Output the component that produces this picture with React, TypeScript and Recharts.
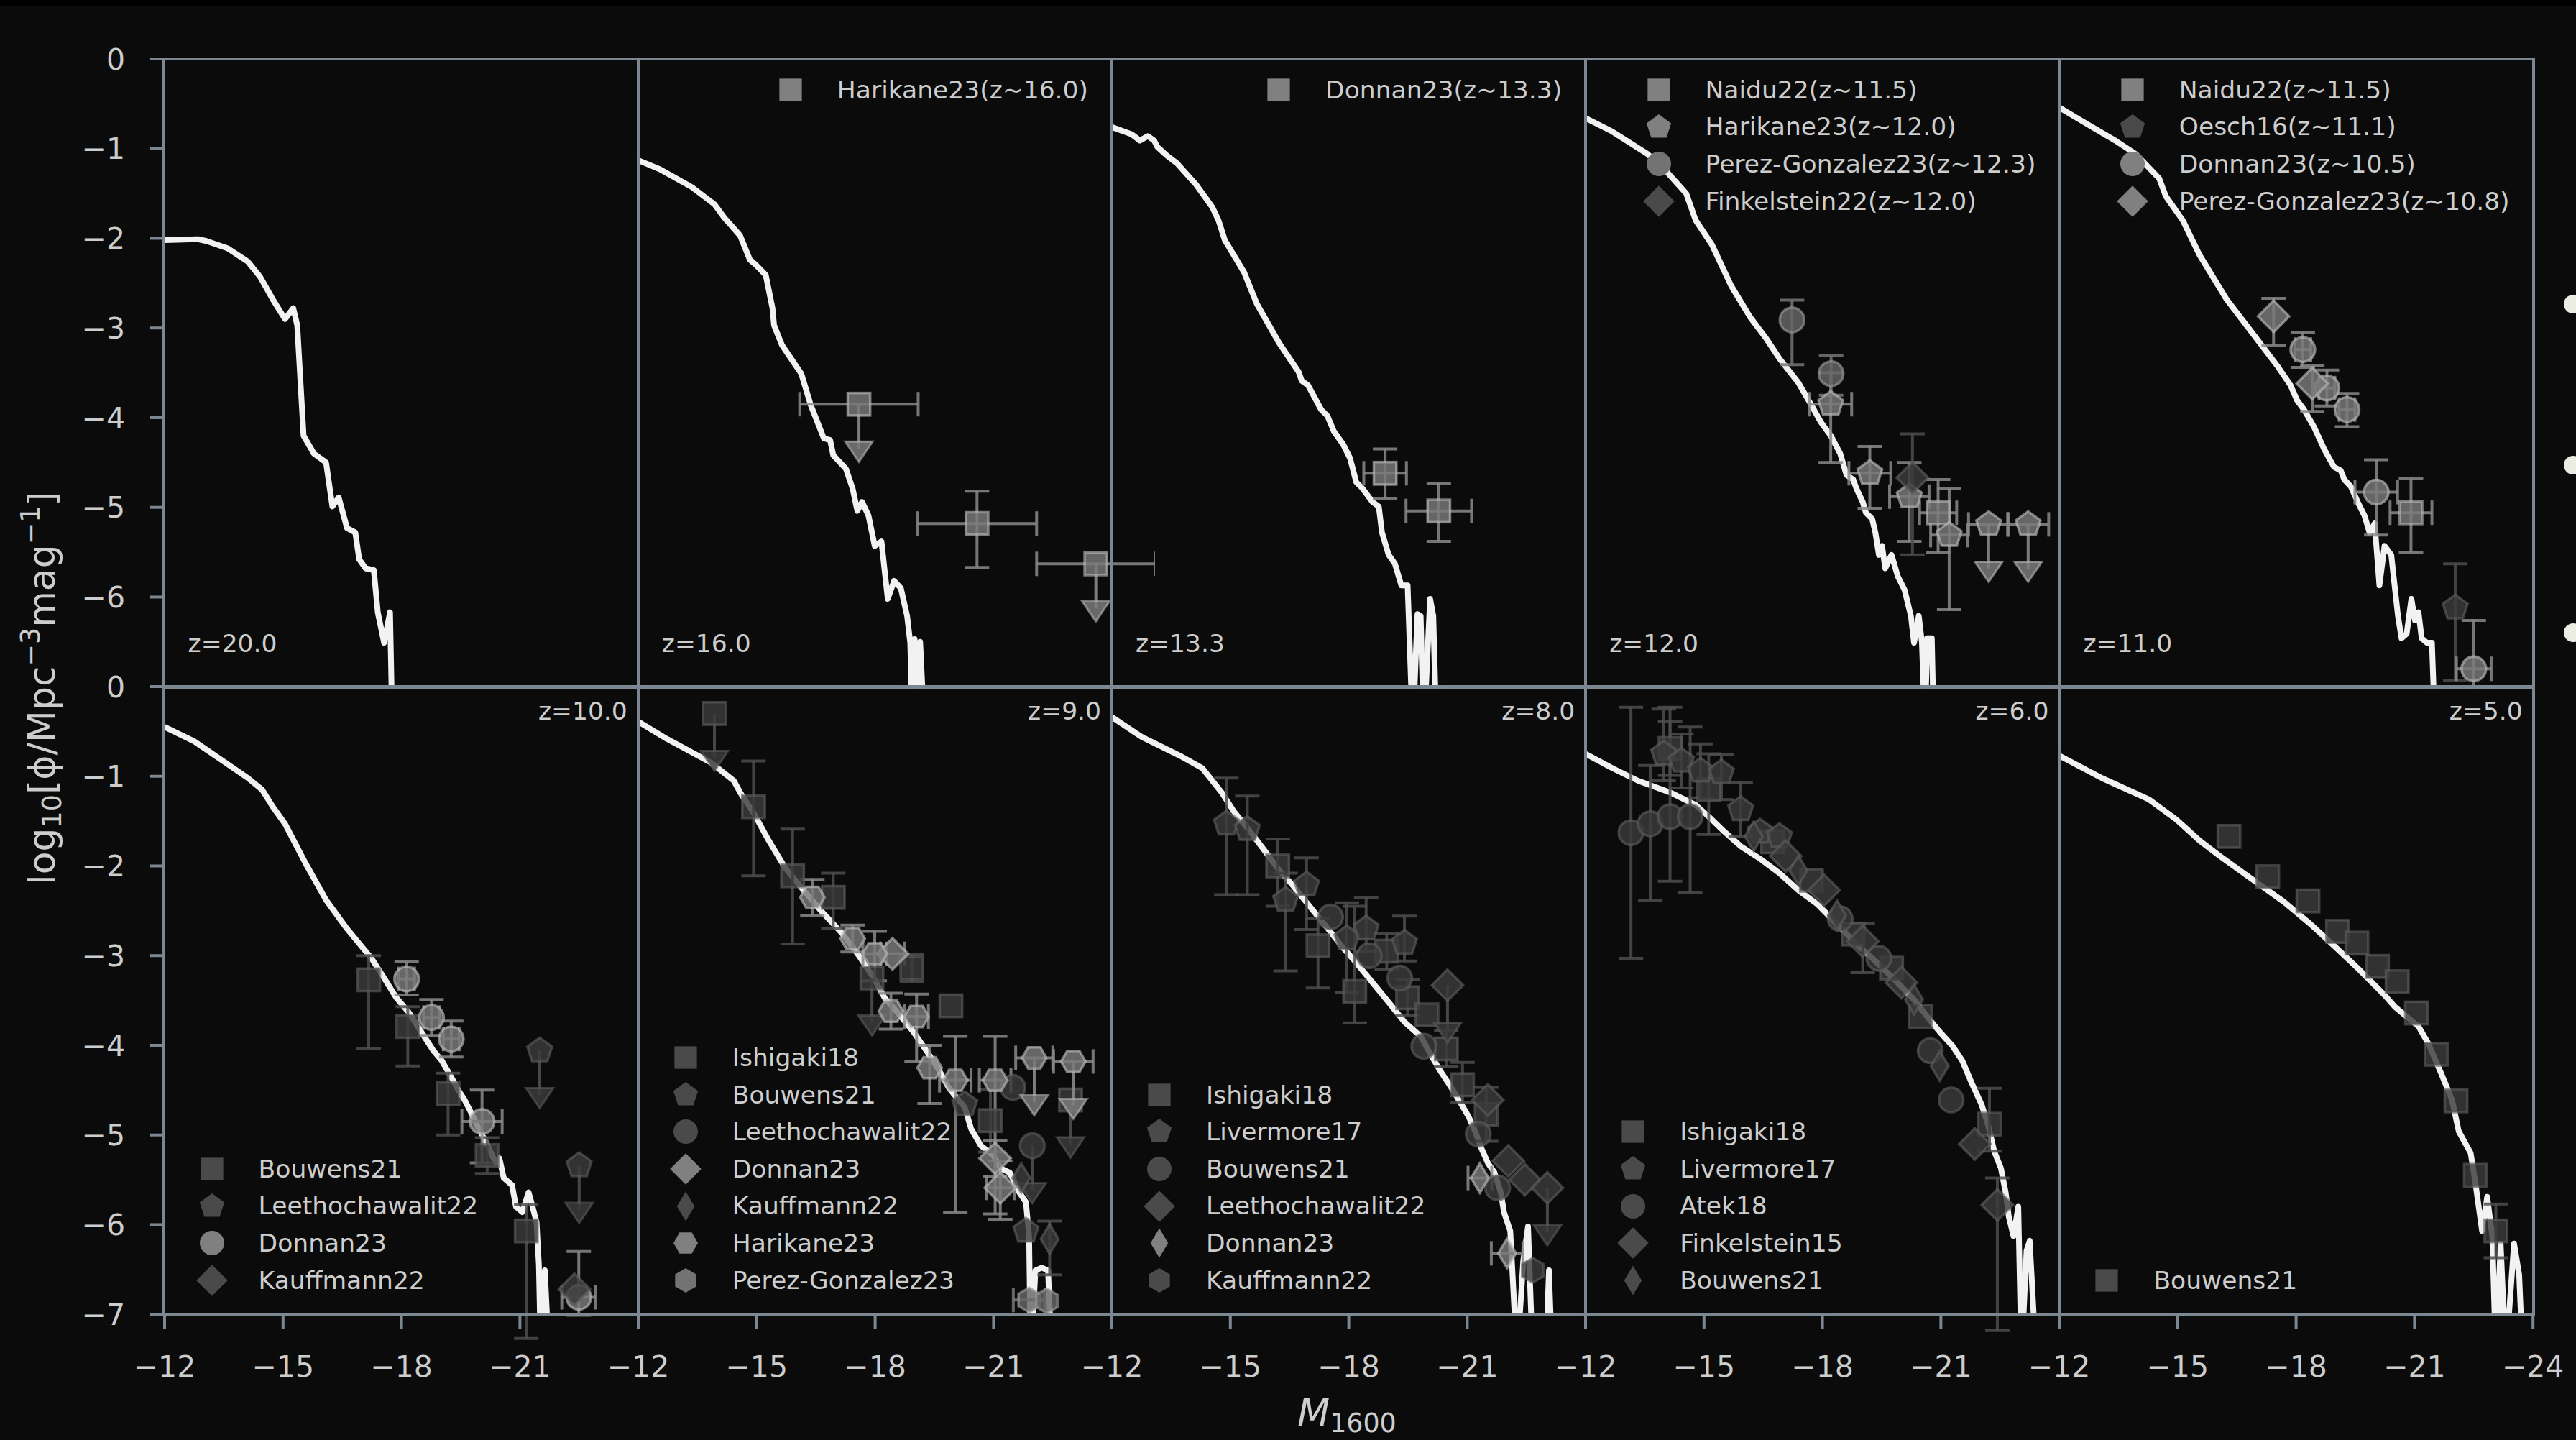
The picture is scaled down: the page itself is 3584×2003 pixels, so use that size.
import React from 'react';
import { ComposedChart, Line, Scatter, XAxis, YAxis, ErrorBar } from 'recharts';

if (typeof document !== 'undefined') {
  document.body.style.margin = '0';
  document.body.style.background = '#0b0b0b';
}

// ---- model curves: [M1600, log10 phi] ----
const model_z20 = [[-12.0,-2.02],[-12.85,-2.01],[-13.06,-2.03],[-13.59,-2.11],[-14.11,-2.26],[-14.42,-2.43],[-14.74,-2.68],[-15.05,-2.9],[-15.26,-2.78],[-15.36,-2.97],[-15.52,-4.2],[-15.78,-4.4],[-16.09,-4.5],[-16.25,-4.99],[-16.41,-4.89],[-16.62,-5.23],[-16.83,-5.28],[-16.93,-5.58],[-17.09,-5.68],[-17.3,-5.7],[-17.4,-6.17],[-17.56,-6.51],[-17.71,-6.17],[-17.77,-7.5]];
const model_z16 = [[-12.0,-1.13],[-12.55,-1.23],[-13.36,-1.43],[-13.93,-1.62],[-14.18,-1.77],[-14.58,-1.97],[-14.83,-2.24],[-14.99,-2.3],[-15.23,-2.41],[-15.4,-2.78],[-15.44,-2.97],[-15.64,-3.19],[-16.13,-3.51],[-16.37,-3.86],[-16.7,-4.23],[-16.86,-4.25],[-16.94,-4.42],[-17.26,-4.57],[-17.43,-4.79],[-17.55,-5.04],[-17.67,-4.94],[-17.83,-5.09],[-17.99,-5.43],[-18.16,-5.38],[-18.32,-6.02],[-18.48,-5.82],[-18.65,-5.9],[-18.81,-6.21],[-18.89,-6.51],[-18.95,-7.5],[-19.0,-6.47],[-19.1,-7.5],[-19.14,-6.5],[-19.25,-7.5]];
const model_z13 = [[-12.0,-0.76],[-12.5,-0.84],[-12.71,-0.91],[-12.91,-0.86],[-13.07,-0.91],[-13.15,-0.98],[-13.4,-1.08],[-13.64,-1.16],[-14.13,-1.4],[-14.54,-1.65],[-14.7,-1.8],[-14.86,-2.02],[-15.35,-2.38],[-15.67,-2.73],[-16.24,-3.17],[-16.73,-3.49],[-16.81,-3.59],[-16.97,-3.64],[-17.3,-3.91],[-17.46,-3.98],[-17.62,-4.15],[-17.86,-4.3],[-18.03,-4.45],[-18.19,-4.72],[-18.35,-4.79],[-18.6,-4.94],[-18.76,-4.99],[-18.84,-5.28],[-19.01,-5.53],[-19.17,-5.63],[-19.33,-5.87],[-19.49,-5.87],[-19.62,-7.5],[-19.74,-6.19],[-19.82,-6.21],[-19.9,-7.5],[-20.06,-6.02],[-20.14,-6.21],[-20.22,-7.5]];
const model_z12 = [[-12.0,-0.66],[-12.68,-0.81],[-13.57,-1.06],[-14.06,-1.26],[-14.55,-1.5],[-14.79,-1.8],[-15.2,-2.07],[-15.69,-2.53],[-16.17,-2.88],[-16.58,-3.12],[-16.91,-3.34],[-17.39,-3.61],[-17.72,-3.86],[-17.96,-4.05],[-18.21,-4.2],[-18.45,-4.4],[-18.61,-4.64],[-18.78,-4.69],[-18.86,-4.79],[-19.02,-4.94],[-19.1,-5.06],[-19.26,-5.13],[-19.34,-5.28],[-19.43,-5.53],[-19.51,-5.43],[-19.59,-5.68],[-19.75,-5.53],[-19.91,-5.77],[-20.08,-5.92],[-20.24,-6.21],[-20.32,-6.51],[-20.44,-6.21],[-20.52,-6.51],[-20.6,-7.5],[-20.65,-6.46],[-20.77,-6.46],[-20.82,-7.5]];
const model_z11 = [[-12.0,-0.54],[-12.57,-0.69],[-13.42,-0.91],[-13.94,-1.06],[-14.53,-1.33],[-14.7,-1.53],[-15.13,-1.8],[-15.56,-2.19],[-16.24,-2.68],[-16.83,-3.02],[-17.52,-3.42],[-17.86,-3.64],[-18.03,-3.81],[-18.2,-3.91],[-18.45,-4.1],[-18.71,-4.35],[-18.96,-4.55],[-19.13,-4.59],[-19.22,-4.69],[-19.39,-4.77],[-19.56,-4.94],[-19.73,-5.09],[-19.86,-5.28],[-19.99,-5.18],[-20.11,-5.87],[-20.24,-5.43],[-20.41,-5.53],[-20.58,-6.21],[-20.67,-6.46],[-20.8,-6.41],[-20.92,-6.02],[-21.01,-6.26],[-21.1,-6.17],[-21.18,-6.46],[-21.31,-6.51],[-21.44,-6.51],[-21.52,-7.5]];
const model_z10 = [[-12.0,-0.45],[-12.75,-0.61],[-13.48,-0.83],[-14.11,-1.02],[-14.47,-1.15],[-14.74,-1.34],[-15.05,-1.53],[-15.57,-1.97],[-16.09,-2.38],[-16.62,-2.7],[-17.24,-3.03],[-17.56,-3.25],[-17.87,-3.47],[-18.18,-3.63],[-18.5,-3.85],[-18.81,-4.06],[-19.02,-4.17],[-19.23,-4.33],[-19.44,-4.5],[-19.6,-4.61],[-19.75,-4.74],[-19.96,-4.93],[-20.22,-5.15],[-20.38,-5.31],[-20.48,-5.26],[-20.59,-5.48],[-20.8,-5.56],[-20.9,-5.8],[-21.06,-5.86],[-21.22,-5.64],[-21.32,-5.8],[-21.42,-5.97],[-21.48,-6.45],[-21.53,-7.5],[-21.63,-6.51],[-21.74,-7.5]];
const model_z9 = [[-12.0,-0.39],[-12.71,-0.58],[-13.85,-0.85],[-14.42,-1.05],[-14.58,-1.18],[-14.91,-1.4],[-15.31,-1.72],[-15.72,-2.02],[-16.13,-2.24],[-16.61,-2.49],[-17.18,-2.76],[-17.59,-3.0],[-17.99,-3.27],[-18.24,-3.47],[-18.56,-3.63],[-18.97,-3.85],[-19.3,-4.06],[-19.62,-4.28],[-19.86,-4.47],[-20.11,-4.61],[-20.27,-4.69],[-20.43,-4.93],[-20.68,-5.12],[-21.0,-5.23],[-21.17,-5.37],[-21.41,-5.42],[-21.65,-5.64],[-21.82,-5.75],[-21.9,-6.13],[-21.94,-7.5],[-22.06,-6.51],[-22.22,-6.48],[-22.38,-6.51],[-22.47,-7.5]];
const model_z8 = [[-12.0,-0.34],[-12.75,-0.56],[-13.72,-0.77],[-14.29,-0.91],[-14.78,-1.18],[-15.1,-1.4],[-15.51,-1.62],[-15.92,-1.86],[-16.24,-2.05],[-16.57,-2.21],[-16.97,-2.43],[-17.38,-2.65],[-17.87,-2.92],[-18.19,-3.08],[-18.6,-3.3],[-19.01,-3.52],[-19.41,-3.74],[-19.82,-3.9],[-20.06,-4.09],[-20.31,-4.28],[-20.55,-4.44],[-20.79,-4.61],[-21.04,-4.8],[-21.2,-4.96],[-21.36,-5.15],[-21.52,-5.31],[-21.69,-5.42],[-21.85,-5.64],[-21.93,-5.86],[-22.09,-6.07],[-22.26,-7.5],[-22.42,-6.4],[-22.54,-6.02],[-22.66,-7.5],[-22.99,-7.5],[-23.07,-6.51],[-23.15,-7.5]];
const model_z6 = [[-12.0,-0.75],[-12.68,-0.91],[-13.33,-1.05],[-14.14,-1.18],[-14.79,-1.32],[-15.12,-1.45],[-15.52,-1.62],[-15.93,-1.78],[-16.42,-1.92],[-16.91,-2.08],[-17.39,-2.27],[-17.88,-2.43],[-18.37,-2.65],[-18.86,-2.87],[-19.34,-3.06],[-19.83,-3.27],[-20.32,-3.49],[-20.65,-3.68],[-20.97,-3.85],[-21.3,-4.01],[-21.54,-4.17],[-21.78,-4.42],[-22.03,-4.66],[-22.19,-4.88],[-22.35,-5.18],[-22.52,-5.37],[-22.64,-5.64],[-22.72,-5.91],[-22.84,-6.13],[-22.96,-5.8],[-23.04,-7.5],[-23.17,-6.29],[-23.25,-6.18],[-23.41,-7.5]];
const model_z5 = [[-12.0,-0.77],[-13.08,-1.02],[-14.28,-1.26],[-14.96,-1.48],[-15.56,-1.72],[-16.07,-1.89],[-16.83,-2.13],[-17.69,-2.4],[-18.37,-2.65],[-18.96,-2.89],[-19.56,-3.14],[-20.24,-3.44],[-20.5,-3.57],[-21.1,-3.79],[-21.35,-3.98],[-21.69,-4.33],[-21.95,-4.61],[-22.12,-4.96],[-22.42,-5.2],[-22.54,-5.53],[-22.71,-6.07],[-22.84,-5.69],[-22.97,-6.13],[-23.06,-7.5],[-23.18,-6.21],[-23.31,-7.5],[-23.52,-6.21],[-23.65,-6.56],[-23.74,-7.5]];

// ---- observations: m, phi, ey [down, up], ex [left, right], ul = upper limit ----
const z16_harikane23 = [
  { m: -17.59, phi: -3.85, ex: [1.5, 1.5], ul: true },
  { m: -20.58, phi: -5.18, ey: [0.49, 0.36], ex: [1.51, 1.51] },
  { m: -23.59, phi: -5.63, ex: [1.5, 1.5], ul: true },
];
const z13_donnan23 = [
  { m: -18.92, phi: -4.62, ey: [0.28, 0.27], ex: [0.54, 0.54] },
  { m: -20.28, phi: -5.04, ey: [0.34, 0.31], ex: [0.83, 0.83] },
];
const z12_naidu22 = [{ m: -20.93, phi: -5.06, ey: [0.44, 0.37], ex: [0.47, 0.47] }];
const z12_harikane23 = [
  { m: -18.21, phi: -3.85, ey: [0.65, 0.35], ex: [0.53, 0.53] },
  { m: -19.2, phi: -4.62, ey: [0.39, 0.3], ex: [0.53, 0.53] },
  { m: -20.2, phi: -4.88, ey: [0.5, 0.38], ex: [0.5, 0.5] },
  { m: -21.21, phi: -5.31, ey: [0.83, 0.52], ex: [0.47, 0.47] },
  { m: -22.21, phi: -5.19, ex: [0.51, 0.51], ul: true },
  { m: -23.21, phi: -5.19, ex: [0.52, 0.52], ul: true },
];
const z12_perez23 = [
  { m: -17.23, phi: -2.91, ey: [0.5, 0.22] },
  { m: -18.22, phi: -3.51, ey: [0.24, 0.2] },
];
const z12_finkelstein22 = [{ m: -20.28, phi: -4.67, ey: [0.86, 0.49] }];

const z11_naidu22 = [{ m: -20.91, phi: -5.06, ey: [0.44, 0.38], ex: [0.53, 0.53] }];
const z11_oesch16 = [{ m: -22.03, phi: -6.12, ey: [0.81, 0.49] }];
const z11_donnan23 = [
  { m: -18.17, phi: -3.24, ey: [0.2, 0.19], ex: [0.2, 0.2] },
  { m: -18.78, phi: -3.67, ey: [0.2, 0.2], ex: [0.2, 0.2] },
  { m: -19.29, phi: -3.91, ey: [0.19, 0.18], ex: [0.2, 0.2] },
  { m: -20.03, phi: -4.83, ey: [0.48, 0.36], ex: [0.54, 0.54] },
  { m: -22.5, phi: -6.8, ey: [0.3, 0.54], ex: [0.44, 0.44] },
];
const z11_perez23 = [
  { m: -17.43, phi: -2.87, ey: [0.32, 0.2] },
  { m: -18.41, phi: -3.62, ey: [0.31, 0.2] },
];

const z10_bouwens21 = [
  { m: -17.17, phi: -3.27, ey: [0.77, 0.27] },
  { m: -18.16, phi: -3.79, ey: [0.44, 0.22] },
  { m: -19.18, phi: -4.54, ey: [0.46, 0.23] },
  { m: -20.17, phi: -5.23, ey: [0.2, 0.2] },
  { m: -21.16, phi: -6.07, ey: [1.2, 0.29] },
];
const z10_leetho22 = [
  { m: -21.5, phi: -4.06, ul: true },
  { m: -22.5, phi: -5.34, ul: true },
];
const z10_donnan23 = [
  { m: -18.13, phi: -3.26, ey: [0.18, 0.19], ex: [0.2, 0.2] },
  { m: -18.76, phi: -3.69, ey: [0.2, 0.2], ex: [0.2, 0.2] },
  { m: -19.26, phi: -3.93, ey: [0.2, 0.2], ex: [0.2, 0.2] },
  { m: -20.04, phi: -4.85, ey: [0.46, 0.35], ex: [0.51, 0.51] },
  { m: -22.49, phi: -6.81, ey: [0.2, 0.51], ex: [0.43, 0.43] },
];
const z10_kauffmann22 = [{ m: -22.38, phi: -6.72 }];

const z9_ishigaki18 = [
  { m: -13.93, phi: -0.3, ul: true },
  { m: -14.92, phi: -1.34, ey: [0.77, 0.51] },
  { m: -15.91, phi: -2.11, ey: [0.76, 0.52] },
  { m: -16.94, phi: -2.35, ey: [0.35, 0.27] },
  { m: -17.92, phi: -3.25, ul: true },
  { m: -18.93, phi: -3.14, ey: [0.15, 0.15] },
  { m: -19.92, phi: -3.56 },
  { m: -20.92, phi: -4.84, ey: [0.35, 0.35] },
  { m: -22.95, phi: -4.61, ul: true },
];
const z9_bouwens21 = [
  { m: -20.27, phi: -4.66 },
  { m: -21.82, phi: -6.07 },
];
const z9_leetho22 = [
  { m: -21.49, phi: -4.47 },
  { m: -21.98, phi: -5.12, ul: true },
];
const z9_donnan23 = [
  { m: -18.44, phi: -2.98, ex: [0.3, 0.3] },
  { m: -21.04, phi: -5.26, ey: [0.2, 0.2] },
  { m: -21.17, phi: -5.59, ey: [0.35, 0.3], ex: [0.35, 0.35] },
];
const z9_kauffmann22 = [
  { m: -21.7, phi: -5.48 },
  { m: -22.42, phi: -6.16, ey: [0.4, 0.2] },
];
const z9_harikane23 = [
  { m: -16.41, phi: -2.35, ey: [0.2, 0.2] },
  { m: -17.43, phi: -2.81, ey: [0.15, 0.15] },
  { m: -17.99, phi: -2.98, ey: [0.3, 0.25], ex: [0.3, 0.3] },
  { m: -18.4, phi: -3.62, ey: [0.2, 0.2] },
  { m: -19.05, phi: -3.68, ey: [0.5, 0.25], ex: [0.3, 0.3] },
  { m: -19.38, phi: -4.25, ey: [0.4, 0.25] },
  { m: -20.03, phi: -4.39, ey: [1.47, 0.49], ex: [0.4, 0.4] },
  { m: -21.04, phi: -4.39, ey: [1.49, 0.49], ex: [0.4, 0.4] },
  { m: -22.03, phi: -4.14, ex: [0.47, 0.47], ul: true },
  { m: -23.02, phi: -4.18, ex: [0.5, 0.5], ul: true },
];
const z9_perez23 = [
  { m: -21.9, phi: -6.84, ex: [0.4, 0.4] },
  { m: -22.35, phi: -6.85 },
];

const z8_ishigaki18 = [
  { m: -16.2, phi: -2.0, ey: [0.45, 0.3] },
  { m: -17.22, phi: -2.89, ey: [0.47, 0.3] },
  { m: -18.15, phi: -3.4, ey: [0.35, 0.95] },
  { m: -18.96, phi: -2.95, ey: [0.2, 0.2] },
  { m: -19.49, phi: -3.47, ey: [0.2, 0.2] },
  { m: -19.98, phi: -3.66 },
  { m: -20.47, phi: -4.04, ey: [0.2, 0.2] },
  { m: -20.88, phi: -4.44, ey: [0.2, 0.25] },
  { m: -21.48, phi: -4.77, ey: [0.3, 0.3] },
];
const z8_livermore17 = [
  { m: -14.9, phi: -1.53, ey: [0.79, 0.51] },
  { m: -15.43, phi: -1.59, ey: [0.73, 0.37] },
  { m: -16.4, phi: -2.38, ey: [0.79, 0.3] },
  { m: -16.93, phi: -2.21, ey: [0.5, 0.3] },
  { m: -17.95, phi: -2.81, ey: [0.6, 0.4] },
  { m: -18.44, phi: -2.7, ey: [0.25, 0.35] },
  { m: -19.41, phi: -2.86, ey: [0.2, 0.3] },
];
const z8_bouwens21 = [
  { m: -17.54, phi: -2.57 },
  { m: -18.52, phi: -3.0 },
  { m: -19.29, phi: -3.25 },
  { m: -19.9, phi: -4.01 },
  { m: -21.28, phi: -4.99 },
  { m: -21.77, phi: -5.59 },
];
const z8_leetho22 = [
  { m: -20.5, phi: -3.33, ul: true },
  { m: -21.52, phi: -4.61 },
  { m: -22.04, phi: -5.29 },
  { m: -22.46, phi: -5.5 },
  { m: -23.03, phi: -5.59, ul: true },
];
const z8_donnan23 = [
  { m: -21.32, phi: -5.48, ex: [0.3, 0.3] },
  { m: -22.01, phi: -6.32, ex: [0.4, 0.4] },
];
const z8_kauffmann22 = [{ m: -22.66, phi: -6.51 }];

const z6_ishigaki18 = [
  { m: -14.14, phi: -0.69, ey: [0.3, 0.3] },
  { m: -15.12, phi: -1.15, ey: [0.5, 0.4] },
  { m: -16.74, phi: -1.73 },
  { m: -17.72, phi: -2.16 },
  { m: -18.78, phi: -2.76 },
  { m: -19.75, phi: -3.14 },
  { m: -20.48, phi: -3.68 },
  { m: -22.23, phi: -4.88, ey: [0.3, 0.4] },
];
const z6_livermore17 = [
  { m: -13.98, phi: -0.75, ey: [0.3, 0.5] },
  { m: -14.43, phi: -0.83, ey: [0.3, 0.3] },
  { m: -14.91, phi: -0.94, ey: [0.3, 0.3] },
  { m: -15.44, phi: -0.96, ey: [0.3, 0.2] },
  { m: -15.93, phi: -1.37, ey: [0.3, 0.3] },
  { m: -16.42, phi: -1.62 },
  { m: -16.91, phi: -1.67 },
];
const z6_atek18 = [
  { m: -13.15, phi: -1.63, ey: [1.4, 1.4] },
  { m: -13.64, phi: -1.53, ey: [0.85, 0.65] },
  { m: -14.14, phi: -1.45, ey: [0.72, 1.22] },
  { m: -14.65, phi: -1.45, ey: [0.85, 1.0] },
  { m: -18.45, phi: -2.59 },
  { m: -19.43, phi: -3.03 },
  { m: -20.73, phi: -4.06 },
  { m: -21.26, phi: -4.61 },
];
const z6_finkelstein15 = [
  { m: -17.07, phi: -1.89 },
  { m: -18.04, phi: -2.27 },
  { m: -19.02, phi: -2.84, ey: [0.35, 0.2] },
  { m: -20.0, phi: -3.3 },
  { m: -21.86, phi: -5.1 },
  { m: -22.43, phi: -5.78, ey: [1.4, 0.3] },
];
const z6_bouwens21 = [
  { m: -16.26, phi: -1.67 },
  { m: -17.39, phi: -2.05 },
  { m: -18.37, phi: -2.55 },
  { m: -20.32, phi: -3.49 },
  { m: -20.97, phi: -4.23 },
];

const z5_bouwens21 = [
  { m: -16.3, phi: -1.67 },
  { m: -17.28, phi: -2.12 },
  { m: -18.3, phi: -2.39 },
  { m: -19.05, phi: -2.73 },
  { m: -19.54, phi: -2.86 },
  { m: -20.06, phi: -3.12 },
  { m: -20.56, phi: -3.29 },
  { m: -21.05, phi: -3.64 },
  { m: -21.55, phi: -4.1 },
  { m: -22.05, phi: -4.62 },
  { m: -22.54, phi: -5.45 },
  { m: -23.06, phi: -6.07, ey: [0.3, 0.3] },
];

const X_TICKS = [-12, -15, -18, -21];
const X_TICKS_LAST = [-12, -15, -18, -21, -24];
const Y_TICKS_TOP = [0, -1, -2, -3, -4, -5, -6];
const Y_TICKS_BOTTOM = [0, -1, -2, -3, -4, -5, -6, -7];

// ---- styling ----
const BG = '#0b0b0b';
const SPINE = '#7c8791';
const TEXT = '#cdcdcd';
const FONT = '"DejaVu Sans", sans-serif';
const LIGHT = { fill: '#7a7a7a', edge: '#b8b8b8', bar: '#8a8a8a', key: '#808080' };
const MID = { fill: '#666666', edge: '#9a9a9a', bar: '#777777', key: '#737373' };
const DARK = { fill: '#3b3b3b', edge: '#5c5c5c', bar: '#4e4e4e', key: '#4a4a4a' };

const PLOT_LEFT = 228.6;
const PW = 659.2;
const PH = 873.2;
const ROW_TOP = [82.3, 955.4];
const PAD = 60; // room around each plot so edge tick labels are not clipped
const PAD_TOP = 30;

const S = (label, shape, tone, pts) => ({ label, shape, tone, pts });

const panels = [
  { z: '20.0', model: model_z20, legend: 'ur', series: [] },
  { z: '16.0', model: model_z16, legend: 'ur', series: [S('Harikane23(z\u223C16.0)', 's', LIGHT, z16_harikane23)] },
  { z: '13.3', model: model_z13, legend: 'ur', series: [S('Donnan23(z\u223C13.3)', 's', LIGHT, z13_donnan23)] },
  { z: '12.0', model: model_z12, legend: 'ur', series: [
    S('Naidu22(z\u223C11.5)', 's', LIGHT, z12_naidu22),
    S('Harikane23(z\u223C12.0)', 'p', LIGHT, z12_harikane23),
    S('Perez-Gonzalez23(z\u223C12.3)', 'o', MID, z12_perez23),
    S('Finkelstein22(z\u223C12.0)', 'D', DARK, z12_finkelstein22),
  ] },
  { z: '11.0', model: model_z11, legend: 'ur', series: [
    S('Naidu22(z\u223C11.5)', 's', LIGHT, z11_naidu22),
    S('Oesch16(z\u223C11.1)', 'p', DARK, z11_oesch16),
    S('Donnan23(z\u223C10.5)', 'o', LIGHT, z11_donnan23),
    S('Perez-Gonzalez23(z\u223C10.8)', 'D', LIGHT, z11_perez23),
  ] },
  { z: '10.0', model: model_z10, legend: 'll', series: [
    S('Bouwens21', 's', DARK, z10_bouwens21),
    S('Leethochawalit22', 'p', DARK, z10_leetho22),
    S('Donnan23', 'o', LIGHT, z10_donnan23),
    S('Kauffmann22', 'D', DARK, z10_kauffmann22),
  ] },
  { z: '9.0', model: model_z9, legend: 'll', series: [
    S('Ishigaki18', 's', DARK, z9_ishigaki18),
    S('Bouwens21', 'p', DARK, z9_bouwens21),
    S('Leethochawalit22', 'o', DARK, z9_leetho22),
    S('Donnan23', 'D', LIGHT, z9_donnan23),
    S('Kauffmann22', 'd', DARK, z9_kauffmann22),
    S('Harikane23', 'H', LIGHT, z9_harikane23),
    S('Perez-Gonzalez23', 'h', MID, z9_perez23),
  ] },
  { z: '8.0', model: model_z8, legend: 'll', series: [
    S('Ishigaki18', 's', DARK, z8_ishigaki18),
    S('Livermore17', 'p', DARK, z8_livermore17),
    S('Bouwens21', 'o', DARK, z8_bouwens21),
    S('Leethochawalit22', 'D', DARK, z8_leetho22),
    S('Donnan23', 'd', LIGHT, z8_donnan23),
    S('Kauffmann22', 'h', DARK, z8_kauffmann22),
  ] },
  { z: '6.0', model: model_z6, legend: 'll', series: [
    S('Ishigaki18', 's', DARK, z6_ishigaki18),
    S('Livermore17', 'p', DARK, z6_livermore17),
    S('Atek18', 'o', DARK, z6_atek18),
    S('Finkelstein15', 'D', DARK, z6_finkelstein15),
    S('Bouwens21', 'd', DARK, z6_bouwens21),
  ] },
  { z: '5.0', model: model_z5, legend: 'll', series: [S('Bouwens21', 's', DARK, z5_bouwens21)] },
];

const fmt = (v) => (v < 0 ? '\u2212' + Math.abs(v) : String(v));

function Mark({ kind, cx, cy, s, fill, stroke, sw, fo, so }) {
  const common = { fill, stroke, strokeWidth: sw, fillOpacity: fo, strokeOpacity: so };
  if (kind === 's') {
    const h = s * 0.46;
    return <rect x={cx - h} y={cy - h} width={2 * h} height={2 * h} {...common} />;
  }
  if (kind === 'o') return <circle cx={cx} cy={cy} r={s * 0.5} {...common} />;
  let pts;
  if (kind === 'D') {
    const r = s * 0.64;
    pts = [[cx, cy - r], [cx + r, cy], [cx, cy + r], [cx - r, cy]];
  } else if (kind === 'd') {
    const w = s * 0.36, h = s * 0.6;
    pts = [[cx, cy - h], [cx + w, cy], [cx, cy + h], [cx - w, cy]];
  } else {
    const n = kind === 'p' ? 5 : 6;
    const r = kind === 'p' ? s * 0.53 : s * 0.5;
    const a0 = kind === 'H' ? 0 : -90;
    pts = Array.from({ length: n }, (_, k) => {
      const a = ((a0 + (k * 360) / n) * Math.PI) / 180;
      return [cx + r * Math.cos(a), cy + r * Math.sin(a)];
    });
  }
  return <polygon points={pts.map((p) => p.join(',')).join(' ')} {...common} />;
}

const pointShape = (ser) => (props) => {
  const { cx, cy, payload } = props;
  if (cx == null || cy == null) return null;
  const t = ser.tone;
  return (
    <g>
      {payload && payload.ul ? (
        <g>
          <line x1={cx} y1={cy} x2={cx} y2={cy + 62} stroke={t.bar} strokeWidth={4} strokeOpacity={0.9} />
          <polygon
            points={`${cx - 19},${cy + 52} ${cx + 19},${cy + 52} ${cx},${cy + 80}`}
            fill={t.fill}
            stroke={t.edge}
            strokeWidth={3}
            fillOpacity={0.85}
            strokeOpacity={0.6}
          />
        </g>
      ) : null}
      <Mark kind={ser.shape} cx={cx} cy={cy} s={34} fill={t.fill} stroke={t.edge} sw={3.5} fo={0.82} so={0.65} />
    </g>
  );
};

function Legend({ items, pos }) {
  if (!items.length) return null;
  const style =
    pos === 'ur'
      ? { position: 'absolute', right: 33, top: 17 }
      : { position: 'absolute', left: 44, bottom: 22 };
  return (
    <div style={{ ...style, display: 'flex', flexDirection: 'column' }}>
      {items.map((it, i) => (
        <div key={i} style={{ display: 'flex', alignItems: 'center', height: 51.6 }}>
          <svg width={44} height={50} style={{ flex: 'none' }}>
            <Mark kind={it.shape} cx={22} cy={25} s={34} fill={it.tone.key} stroke="none" sw={0} fo={1} so={0} />
          </svg>
          <span style={{ marginLeft: 43, fontSize: 34.5, lineHeight: 1, color: TEXT, whiteSpace: 'nowrap' }}>{it.label}</span>
        </div>
      ))}
    </div>
  );
}

function Panel({ p, col, row }) {
  const left = PLOT_LEFT + col * PW;
  const top = ROW_TOP[row];
  const yW = col === 0 ? 200 : 0;
  const xH = row === 1 ? 120 : 0;
  const offX = PAD + yW;
  const line = p.model.map(([m, phi]) => ({ m, phi }));
  const tickStyle = { fill: TEXT, fontSize: 41, fontFamily: FONT };
  const w = PW + yW + 2 * PAD;
  const h = PH + xH + PAD_TOP;
  return (
    <div style={{ position: 'absolute', left: left - offX, top: top - PAD_TOP, width: w, height: h }}>
      <ComposedChart width={w} height={h} margin={{ top: PAD_TOP, right: PAD, bottom: 0, left: PAD }}>
        <XAxis
          type="number"
          dataKey="m"
          domain={[-24, -12]}
          reversed
          allowDataOverflow
          hide={row === 0}
          height={xH}
          ticks={col === 4 ? X_TICKS_LAST : X_TICKS}
          interval={0}
          tickFormatter={fmt}
          axisLine={false}
          tickLine={{ stroke: SPINE, strokeWidth: 4 }}
          tickSize={20}
          tickMargin={38}
          tick={tickStyle}
        />
        <YAxis
          type="number"
          dataKey="phi"
          domain={[-7, 0]}
          allowDataOverflow
          hide={col !== 0}
          width={yW}
          ticks={row === 0 ? Y_TICKS_TOP : Y_TICKS_BOTTOM}
          interval={0}
          tickFormatter={fmt}
          axisLine={false}
          tickLine={{ stroke: SPINE, strokeWidth: 4 }}
          tickSize={20}
          tickMargin={35}
          tick={tickStyle}
        />
        <Line
          data={line}
          dataKey="phi"
          type="linear"
          stroke="#f2f2f2"
          strokeWidth={8}
          strokeLinejoin="round"
          dot={false}
          activeDot={false}
          isAnimationActive={false}
        />
        {p.series.map((ser, i) => (
          <Scatter key={i} data={ser.pts} dataKey="phi" shape={pointShape(ser)} isAnimationActive={false}>
            <ErrorBar dataKey="ey" direction="y" width={17} stroke={ser.tone.bar} strokeWidth={4} strokeOpacity={0.85} />
            <ErrorBar dataKey="ex" direction="x" width={17} stroke={ser.tone.bar} strokeWidth={4} strokeOpacity={0.85} />
          </Scatter>
        ))}
      </ComposedChart>
      <div
        style={{
          position: 'absolute',
          left: offX - 2.25,
          top: PAD_TOP - 2.25,
          width: PW + 4.5,
          height: PH + 4.5,
          border: `4.5px solid ${SPINE}`,
          boxSizing: 'border-box',
          pointerEvents: 'none',
        }}
      />
      <div style={{ position: 'absolute', left: offX, top: PAD_TOP, width: PW, height: PH }}>
        <Legend items={p.series} pos={p.legend} />
      </div>
    </div>
  );
}

export default function App() {
  return (
    <div style={{ position: 'relative', width: 3584, height: 2003, background: BG, overflow: 'hidden', fontFamily: FONT }}>
      <div style={{ position: 'absolute', left: 0, top: 0, width: 3584, height: 9, background: '#000' }} />
      {panels.map((p, i) => (
        <Panel key={i} p={p} col={i % 5} row={Math.floor(i / 5)} />
      ))}
      <svg width={3584} height={2003} style={{ position: 'absolute', left: 0, top: 0, pointerEvents: 'none' }}>
        {panels.map((p, i) => {
          const col = i % 5;
          const row = Math.floor(i / 5);
          const l = PLOT_LEFT + col * PW;
          return row === 0 ? (
            <text key={i} x={l + 33} y={ROW_TOP[0] + PH - 49} fontSize={34.5} fill={TEXT} fontFamily={FONT}>
              z={p.z}
            </text>
          ) : (
            <text key={i} x={l + PW - 15} y={ROW_TOP[1] + 46} fontSize={34.5} fill={TEXT} fontFamily={FONT} textAnchor="end">
              z={p.z}
            </text>
          );
        })}
        <text transform="rotate(-90)" x={-957} y={76} fontSize={52} fill={TEXT} fontFamily={FONT} textAnchor="middle">
          <tspan>log</tspan>
          <tspan fontSize={36.4} dy={9}>10</tspan>
          <tspan dy={-9}>[ϕ/Mpc</tspan>
          <tspan fontSize={36.4} dy={-21}>{'\u22123'}</tspan>
          <tspan dy={21}>mag</tspan>
          <tspan fontSize={36.4} dy={-21}>{'\u22121'}</tspan>
          <tspan dy={21}>]</tspan>
        </text>
        <text x={1874} y={1983} fontSize={52} fill={TEXT} fontFamily={FONT} textAnchor="middle">
          <tspan fontStyle="italic">M</tspan>
          <tspan fontSize={36.4} dy={9}>1600</tspan>
        </text>
      </svg>
      {[423, 647, 880].map((y, i) => (
        <div
          key={i}
          style={{ position: 'absolute', left: 3567, top: y - 13, width: 26, height: 26, borderRadius: 13, background: '#ecebe4' }}
        />
      ))}
    </div>
  );
}
